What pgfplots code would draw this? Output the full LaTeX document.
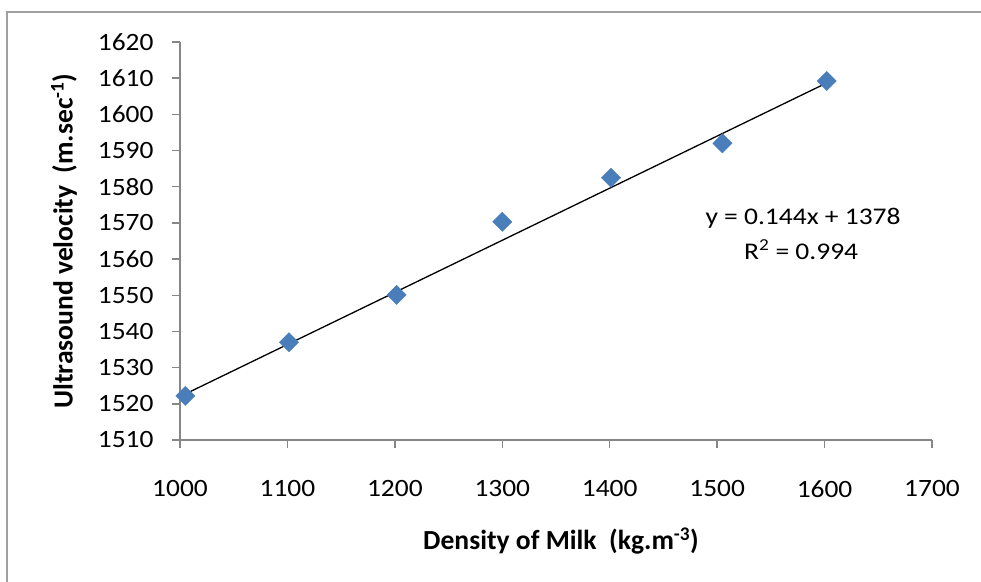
\documentclass[border=0pt]{standalone}
\usepackage{fontspec}
\setmainfont{Carlito}
\newfontfamily\tickfont[FakeStretch=1.1]{Carlito}
\newfontfamily\eqfont[FakeStretch=1.15]{Carlito}
\usepackage{pgfplots}
\pgfplotsset{compat=1.18}
\definecolor{markblue}{RGB}{74,126,187}
\definecolor{axisgray}{RGB}{134,134,134}
\definecolor{framegray}{RGB}{160,160,160}
\begin{document}
\begin{tikzpicture}
\useasboundingbox (0bp,0bp) rectangle (981bp,582bp);
\draw[framegray, line width=1.5bp] (7bp,-20bp) rectangle (1000bp,570bp);
\begin{axis}[
  at={(180bp,142bp)}, anchor=south west,
  scale only axis, width=752bp, height=398bp,
  xmin=1000, xmax=1700, ymin=1510, ymax=1620,
  xtick distance=100, ytick distance=10,
  axis x line*=bottom, axis y line*=left,
  axis line style={axisgray, line width=1.5bp},
  tick style={axisgray, line width=1.5bp},
  tick align=outside, major tick length=8bp,
  /pgf/number format/assume math mode=true,
  /pgf/number format/set thousands separator={},
  ticklabel style={font=\tickfont\fontsize{25}{30}\selectfont},
  xticklabel style={yshift=-29bp},
  yticklabel style={xshift=-15bp},
  xlabel={\textbf{Density of Milk\ \ (kg.m\textsuperscript{-3})}},
  ylabel={\textbf{Ultrasound velocity\ \ (m.sec\textsuperscript{-1})}},
  label style={font=\fontsize{27.7}{32}\selectfont},
  xlabel style={at={(axis description cs:0.5066,-0.2538)}, anchor=center},
  ylabel style={at={(axis description cs:-0.1543,0.5)}, anchor=center, rotate=0},
  clip=false,
]
\addplot[black, line width=1.3bp] coordinates {(1005,1522.72) (1602,1608.69)};
\addplot[only marks, mark=square*, mark size=6.8bp, mark options={rotate=45, fill=markblue, draw=markblue}] coordinates {
(1005,1522.2) (1101.5,1537.0) (1201.7,1550.1) (1300,1570.3) (1401.2,1582.5) (1504.9,1592.0) (1602,1609.2)
};
\node[font=\eqfont\fontsize{24}{28}\selectfont] at (axis description cs:0.8285,0.5578) {y = 0.144x + 1378};
\node[font=\eqfont\fontsize{24}{28}\selectfont] at (axis description cs:0.826,0.477) {R\textsuperscript{2} = 0.994};
\end{axis}
\end{tikzpicture}
\end{document}
